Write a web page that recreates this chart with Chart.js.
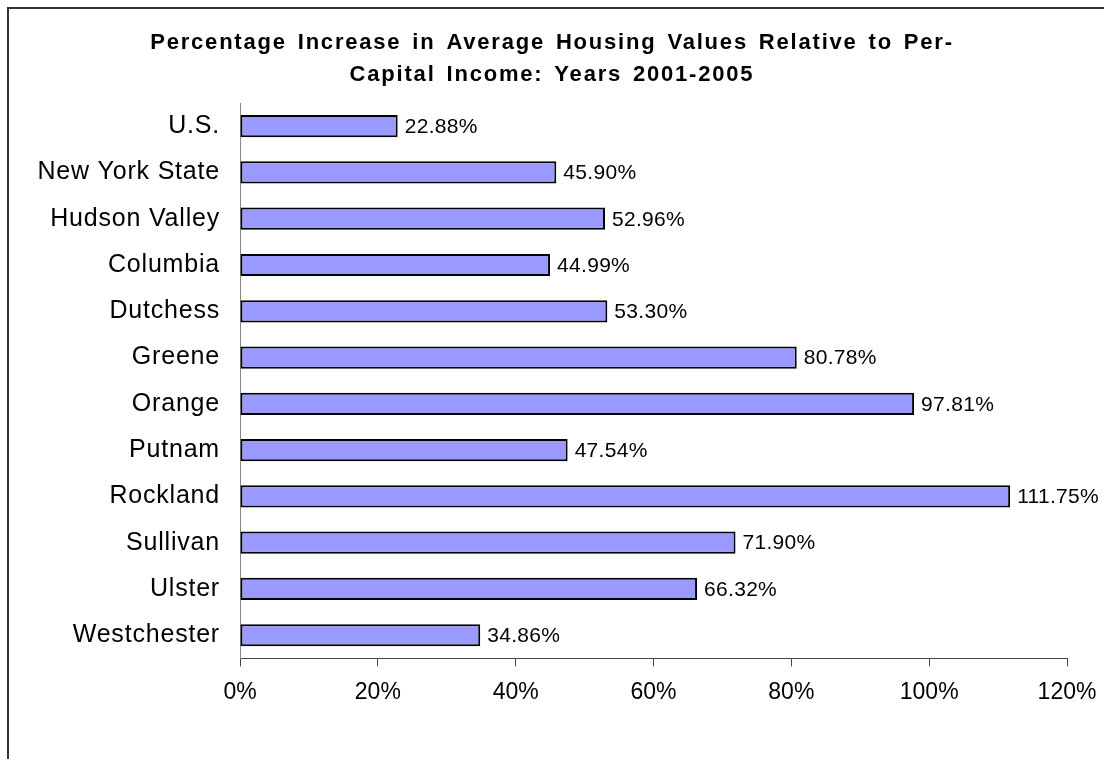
<!DOCTYPE html>
<html>
<head>
<meta charset="utf-8">
<script src="https://cdn.jsdelivr.net/npm/chart.js@4"></script>
<style>
  html, body { margin: 0; padding: 0; background: #fff; overflow: hidden; }
  #wrap { position: relative; width: 1104px; height: 759px; overflow: hidden; }
  #frame { position: absolute; left: 7px; top: 7px; width: 1200px; height: 900px; border: 2px solid #333; }
  canvas { position: absolute; left: 0; top: 0; }
</style>
</head>
<body>
<div id="wrap">
  <div id="frame"></div>
  <canvas id="housingChart" width="1104" height="759"></canvas>
</div>
<script>
const regions = ['U.S.', 'New York State', 'Hudson Valley', 'Columbia', 'Dutchess', 'Greene',
  'Orange', 'Putnam', 'Rockland', 'Sullivan', 'Ulster', 'Westchester'];
const increases = [22.88, 45.90, 52.96, 44.99, 53.30, 80.78, 97.81, 47.54, 111.75, 71.90, 66.32, 34.86];
const xTicks = [0, 20, 40, 60, 80, 100, 120];

const fontFamily = '"Liberation Sans", Arial, sans-serif';

// the original is rendered with slightly spaced letters
function withSpacing(fn, spacing) {
  return function (...args) {
    const c = this.ctx;
    const prevL = c.letterSpacing, prevW = c.wordSpacing;
    c.letterSpacing = spacing.letter || '0px';
    c.wordSpacing = spacing.word || '0px';
    fn.apply(this, args);
    c.letterSpacing = prevL;
    c.wordSpacing = prevW;
  };
}

const textSpacing = {
  id: 'textSpacing',
  beforeDraw(chart) {
    const t = chart.titleBlock;
    if (t && !t._spaced) { t.draw = withSpacing(t.draw, { letter: '1.8px', word: '3px' }); t._spaced = true; }
    const y = chart.scales.y;
    if (y && !y._spaced) { y.drawLabels = withSpacing(y.drawLabels, { letter: '0.8px' }); y._spaced = true; }
  }
};

// value labels at the end of each bar
const barLabels = {
  id: 'barLabels',
  afterDatasetsDraw(chart) {
    const ctx = chart.ctx;
    const meta = chart.getDatasetMeta(0);
    ctx.save();
    ctx.font = '21px ' + fontFamily;
    ctx.letterSpacing = '0.3px';
    ctx.fillStyle = '#000';
    ctx.textAlign = 'left';
    ctx.textBaseline = 'middle';
    meta.data.forEach((bar, i) => {
      ctx.fillText(increases[i].toFixed(2) + '%', bar.x + 7, bar.y + 1);
    });
    ctx.restore();
  }
};

const ctx = document.getElementById('housingChart').getContext('2d');
new Chart(ctx, {
  type: 'bar',
  data: {
    labels: regions,
    datasets: [{
      data: increases,
      backgroundColor: '#9999FF',
      borderColor: '#000',
      borderWidth: 2,
      borderSkipped: false,
      barPercentage: 0.48,
      categoryPercentage: 1
    }]
  },
  options: {
    indexAxis: 'y',
    responsive: false,
    animation: false,
    devicePixelRatio: 1,
    layout: { padding: { top: 27, left: 37, right: 37, bottom: 41 } },
    plugins: {
      legend: { display: false },
      tooltip: { enabled: false },
      title: {
        display: true,
        text: ['Percentage Increase in Average Housing Values Relative to Per-',
               'Capital Income: Years 2001-2005'],
        color: '#000',
        font: { family: fontFamily, size: 22, weight: 'bold', lineHeight: '32px' },
        padding: { top: 0, bottom: 12 }
      }
    },
    scales: {
      x: {
        min: 0,
        max: 120,
        afterBuildTicks(scale) { scale.ticks = xTicks.map(v => ({ value: v })); },
        afterFit(scale) { scale.paddingLeft = 0; scale.paddingRight = 0; },
        border: { color: '#444', width: 1 },
        grid: { drawOnChartArea: false, drawTicks: true, tickLength: 8, color: '#444' },
        ticks: {
          color: '#000',
          padding: 12,
          maxRotation: 0,
          font: { family: fontFamily, size: 23 },
          callback: v => v + '%'
        }
      },
      y: {
        afterFit(scale) { scale.width = 203; },
        border: { color: '#888', width: 1 },
        grid: { display: false, drawTicks: false },
        ticks: {
          color: '#000',
          padding: 20,
          font: { family: fontFamily, size: 25 }
        }
      }
    }
  },
  plugins: [textSpacing, barLabels]
});
</script>
</body>
</html>
